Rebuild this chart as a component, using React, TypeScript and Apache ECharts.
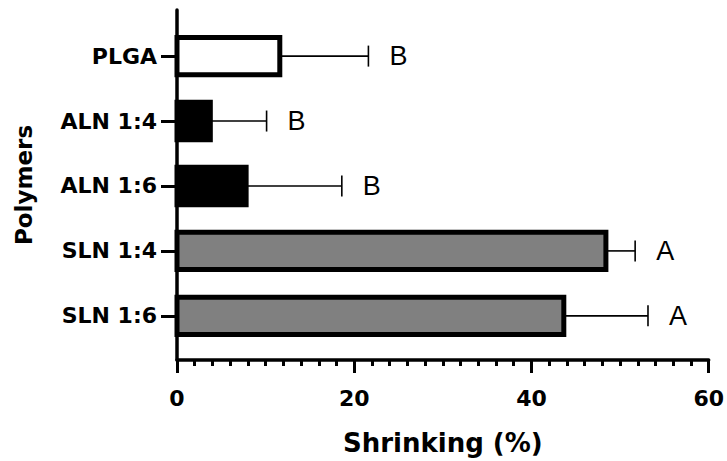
import React, { useEffect, useRef } from "react";
import * as echarts from "echarts";

const categories = ["PLGA", "ALN 1:4", "ALN 1:6", "SLN 1:4", "SLN 1:6"];
const means = [11.6, 3.76, 7.8, 48.4, 43.65];
const sds = [10.0, 6.35, 10.8, 3.3, 9.5];
const letters = ["B", "B", "B", "A", "A"];
const fills = ["#ffffff", "#000000", "#000000", "#808080", "#808080"];
const xTicks = [0, 20, 40, 60];

export default function App() {
  const ref = useRef<HTMLDivElement>(null);
  useEffect(() => {
    if (!ref.current) return;
    const chart = echarts.init(ref.current, null, { renderer: "svg" });
    const n = categories.length;
    const pos = categories.map((_, i) => n - i);
    const data = categories.map((c, i) => [means[i], pos[i], sds[i], i]);
    const font = "'DejaVu Sans', Arial, sans-serif";
    chart.setOption({
      animation: false,
      backgroundColor: "#ffffff",
      grid: { left: 177, right: 16, top: 10, bottom: 94, containLabel: false },
      xAxis: {
        type: "value",
        min: xTicks[0],
        max: xTicks[xTicks.length - 1],
        interval: 20,
        splitLine: { show: false },
        axisLine: { show: true, onZero: false, lineStyle: { color: "#000", width: 3.5 } },
        axisTick: { show: true, length: 13, lineStyle: { color: "#000", width: 3 } },
        minorTick: { show: true, splitNumber: 10, length: 6, lineStyle: { color: "#000", width: 3 } },
        axisLabel: { margin: 27, color: "#000", fontSize: 22, fontWeight: "bold", fontFamily: font },
        name: "Shrinking (%)",
        nameLocation: "middle",
        nameGap: 70,
        nameTextStyle: { color: "#000", fontSize: 26, fontWeight: "bold", fontFamily: font },
      },
      yAxis: {
        type: "value",
        min: 0.32,
        max: 5.71,
        splitLine: { show: false },
        axisLine: { show: true, onZero: false, lineStyle: { color: "#000", width: 3.5 } },
        axisTick: { show: true, length: 16, customValues: pos, lineStyle: { color: "#000", width: 3 } },
        axisLabel: {
          customValues: pos,
          margin: 20,
          color: "#000",
          fontSize: 22,
          fontWeight: "bold",
          fontFamily: font,
          formatter: (v: number) => categories[n - Math.round(v)] ?? "",
        },
        name: "Polymers",
        nameLocation: "middle",
        nameGap: 142,
        nameTextStyle: { color: "#000", fontSize: 23, fontWeight: "bold", fontFamily: font },
      },
      series: [
        {
          type: "custom",
          data,
          clip: false,
          renderItem: (params: any, api: any) => {
            const v = api.value(0);
            const y = api.value(1);
            const sd = api.value(2);
            const idx = api.value(3);
            const p0 = api.coord([0, y]);
            const p1 = api.coord([v, y]);
            const pe = api.coord([v + sd, y]);
            const h = api.size([0, 0.575])[1];
            const capH = 21;
            return {
              type: "group",
              children: [
                {
                  type: "line",
                  shape: { x1: p1[0], y1: p1[1], x2: pe[0], y2: pe[1] },
                  style: { stroke: "#000", lineWidth: 1.6 },
                },
                {
                  type: "line",
                  shape: { x1: pe[0], y1: pe[1] - capH / 2, x2: pe[0], y2: pe[1] + capH / 2 },
                  style: { stroke: "#000", lineWidth: 1.6 },
                },
                {
                  type: "rect",
                  shape: { x: p0[0], y: p0[1] - h / 2, width: p1[0] - p0[0], height: h },
                  style: { fill: fills[idx], stroke: "#000", lineWidth: 5 },
                },
                {
                  type: "text",
                  x: pe[0] + 21,
                  y: pe[1],
                  style: {
                    text: letters[idx],
                    fill: "#000",
                    fontSize: 27,
                    fontFamily: "'Liberation Sans', Arial, sans-serif",
                    verticalAlign: "middle",
                    align: "left",
                  },
                },
              ],
            };
          },
        },
      ],
    });
    return () => chart.dispose();
  }, []);
  return <div ref={ref} style={{ width: 727, height: 461, position: "absolute", left: 0, top: 0 }} />;
}
